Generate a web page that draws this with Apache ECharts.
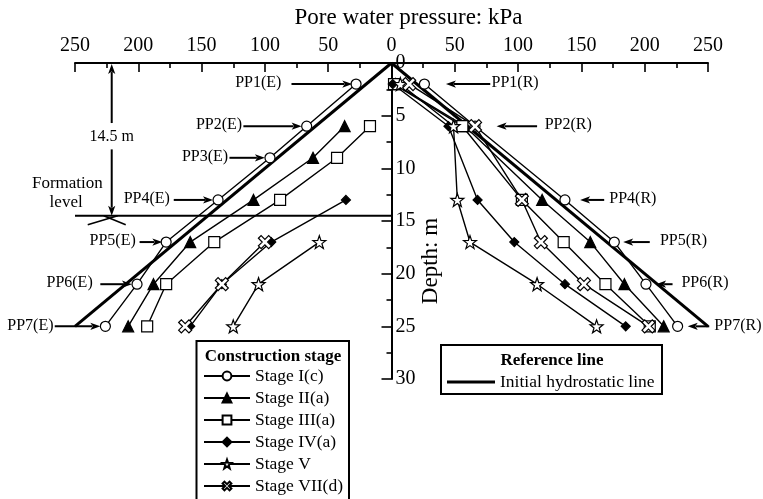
<!DOCTYPE html>
<html>
<head>
<meta charset="utf-8">
<script src="https://cdn.jsdelivr.net/npm/echarts@6/dist/echarts.min.js"></script>
<style>
html, body { margin: 0; padding: 0; background: #fff; }
#chart { width: 763px; height: 499px; }
</style>
</head>
<body>
<div id="chart"></div>
<script>
// Piezometer depths (m)
const depthsE = [2, 6, 9, 13, 17, 21, 25];   // PP1(E) ... PP7(E)
const depthsR = [2, 6, 13, 17, 21, 25];      // PP1(R), PP2(R), PP4(R) ... PP7(R)

const stageNames = ['Stage I(c)', 'Stage II(a)', 'Stage III(a)', 'Stage IV(a)', 'Stage V', 'Stage VII(d)'];

// Pore water pressure (kPa), excavation side (drawn to the left), null = not measured
const stage1E = [28, 67, 96, 137, 178, 201, 226];
const stage2E = [null, 37, 62, 109, 159, 188, 208];
const stage3E = [null, 17, 43, 88, 140, 178, 193];
const stage4E = [null, null, null, 36, 95, 134, 159];
const stage5E = [null, null, null, null, 57, 105, 125];
const stage7E = [null, null, null, null, 100, 134, 163];

// Pore water pressure (kPa), retained side (drawn to the right)
const stage1R = [26, 66, 137, 176, 201, 226];
const stage2R = [3, 58, 119, 157, 184, 215];
const stage3R = [2, 56, 103, 136, 169, 204];
const stage4R = [1, 45, 68, 97, 137, 185];
const stage5R = [7, 49, 52, 62, 115, 162];
const stage7R = [14, 66, 103, 118, 152, 203];

// Initial hydrostatic line
const hydroDepth = [0, 25];
const hydroPressure = [0, 250];

// Top axis tick labels (kPa), both sides
const xTickLabels = [250, 200, 150, 100, 50, 0, 50, 100, 150, 200, 250];

const FONT = '"Liberation Serif", "Times New Roman", serif';

const STAR = 'path://M10,0 L12.35,6.76 L19.51,6.91 L13.8,11.24 L15.88,18.09 L10,14 L4.12,18.09 L6.2,11.24 L0.49,6.91 L7.65,6.76 Z';
const CROSS = 'path://M0,2.5 L2.5,0 L6,3.5 L9.5,0 L12,2.5 L8.5,6 L12,9.5 L9.5,12 L6,8.5 L2.5,12 L0,9.5 L3.5,6 Z';

const markerStyle = {
  'Stage I(c)':   { symbol: 'circle',   size: 10, fill: '#fff' },
  'Stage II(a)':  { symbol: 'triangle', size: 11, fill: '#000' },
  'Stage III(a)': { symbol: 'rect',     size: 11, fill: '#fff' },
  'Stage IV(a)':  { symbol: 'diamond',  size: 9,  fill: '#000' },
  'Stage V':      { symbol: STAR,       size: 13, fill: '#fff' },
  'Stage VII(d)': { symbol: CROSS,      size: 13, fill: '#fff' }
};

const valuesE = [stage1E, stage2E, stage3E, stage4E, stage5E, stage7E];
const valuesR = [stage1R, stage2R, stage3R, stage4R, stage5R, stage7R];

function points(depths, values, sign) {
  const out = [];
  depths.forEach((d, i) => {
    if (values[i] !== null) out.push([sign * values[i], d]);
  });
  return out;
}

function stageSeries(name, data) {
  const m = markerStyle[name];
  return {
    type: 'line',
    name: name,
    data: data,
    symbol: m.symbol,
    symbolSize: m.size,
    showAllSymbol: true,
    silent: true,
    z: 4,
    lineStyle: { color: '#000', width: 1.4 },
    itemStyle: { color: m.fill, borderColor: '#000', borderWidth: 1.2 }
  };
}

const series = [];
const hydroName = 'Initial hydrostatic line';
[-1, 1].forEach(sign => {
  series.push({
    type: 'line',
    name: hydroName,
    data: hydroDepth.map((d, i) => [sign * hydroPressure[i], d]),
    symbol: 'none',
    silent: true,
    z: 3,
    lineStyle: { color: '#000', width: 3 },
    itemStyle: { color: '#000' }
  });
});
stageNames.forEach((name, k) => {
  series.push(stageSeries(name, points(depthsE, valuesE[k], -1)));
  series.push(stageSeries(name, points(depthsR, valuesR[k], 1)));
});

const GRID = { left: 75, right: 55, top: 63, bottom: 120 };
const chartW = 763;
// depth axis sits on the zero-pressure line, half way across the plot
const depthAxisOffset = -(chartW - GRID.left - GRID.right) / 2;

const chart = echarts.init(document.getElementById('chart'), null, { renderer: 'canvas' });

chart.setOption({
  animation: false,
  backgroundColor: '#fff',
  grid: Object.assign({ containLabel: false }, GRID),
  xAxis: {
    type: 'value',
    position: 'top',
    min: -250, max: 250, interval: 50,
    axisLine: { onZero: false, lineStyle: { color: '#000', width: 2 } },
    axisTick: { inside: true, length: 9, lineStyle: { color: '#000', width: 1.6 } },
    minorTick: { show: true, splitNumber: 2, length: 5, lineStyle: { color: '#000', width: 1.6 } },
    splitLine: { show: false },
    axisLabel: {
      margin: 7, color: '#000', fontFamily: FONT, fontSize: 20,
      formatter: v => String(xTickLabels[Math.round((v + 250) / 50)])
    }
  },
  yAxis: {
    type: 'value',
    inverse: true,
    position: 'right',
    offset: depthAxisOffset,
    min: 0, max: 30, interval: 5,
    axisLine: { onZero: false, lineStyle: { color: '#000', width: 2 } },
    axisTick: { inside: true, length: 10, lineStyle: { color: '#000', width: 1.6 } },
    minorTick: { show: true, splitNumber: 2, length: 5, lineStyle: { color: '#000', width: 1.6 } },
    splitLine: { show: false },
    axisLabel: { margin: 4, color: '#000', fontFamily: FONT, fontSize: 20 }
  },
  legend: [
    {
      data: stageNames,
      orient: 'vertical',
      left: 198, top: 360, height: 170,
      itemWidth: 46, itemHeight: 11, itemGap: 0,
      selectedMode: false,
      textStyle: { color: '#000', fontFamily: FONT, fontSize: 17.5, lineHeight: 22 }
    },
    {
      data: [{ name: hydroName, icon: 'rect' }],
      orient: 'vertical',
      left: 442, top: 366,
      itemWidth: 48, itemHeight: 3, itemGap: 0,
      selectedMode: false,
      textStyle: { color: '#000', fontFamily: FONT, fontSize: 17.5, lineHeight: 22 }
    }
  ],
  series: series
});

// ---- annotations ----
const px = (v, d) => chart.convertToPixel({ xAxisIndex: 0, yAxisIndex: 0 }, [v, d]);
const g = [];

function line(a, b, w) {
  g.push({ type: 'line', silent: true, z: 10,
    shape: { x1: a[0], y1: a[1], x2: b[0], y2: b[1] },
    style: { stroke: '#000', lineWidth: w || 2 } });
}
function arrow(tail, tip) {
  const dx = tip[0] - tail[0], dy = tip[1] - tail[1];
  const len = Math.sqrt(dx * dx + dy * dy);
  const ux = dx / len, uy = dy / len;
  const hl = 10, hw = 3.6;
  const base = [tip[0] - ux * hl, tip[1] - uy * hl];
  line(tail, [base[0] + ux * 2, base[1] + uy * 2], 2);
  g.push({ type: 'polygon', silent: true, z: 10,
    shape: { points: [tip, [base[0] - uy * hw, base[1] + ux * hw], [base[0] + ux * 2.5, base[1] + uy * 2.5], [base[0] + uy * hw, base[1] - ux * hw]] },
    style: { fill: '#000' } });
}
function text(str, p, align, size, weight) {
  g.push({ type: 'text', silent: true, z: 10, x: p[0], y: p[1],
    style: { text: str, fill: '#000', align: align || 'center', verticalAlign: 'middle',
      font: (weight || 'normal') + ' ' + (size || 16) + 'px ' + FONT } });
}

// Piezometer labels: [label, depth, text anchor, arrow tail, arrow tip] (kPa, signed)
const ppLabels = [
  ['PP1(E)', 2, -87, -79, -31],
  ['PP2(E)', 6, -118, -117, -71],
  ['PP3(E)', 9, -129, -128, -100],
  ['PP4(E)', 13, -175, -172, -141],
  ['PP5(E)', 17, -202, -199, -181],
  ['PP6(E)', 21, -236, -230, -205],
  ['PP7(E)', 25, -267, -266, -230],
  ['PP1(R)', 2, 79, 78, 43],
  ['PP2(R)', 6, 121, 115, 83],
  ['PP4(R)', 13, 172, 168, 149],
  ['PP5(R)', 17, 212, 204, 183],
  ['PP6(R)', 21, 229, 222, 209],
  ['PP7(R)', 25, 255, 251, 234]
];
ppLabels.forEach(([lab, d, t, tail, tip]) => {
  arrow(px(tail, d), px(tip, d));
  const p = px(t, d);
  text(lab, [p[0], p[1] - 1], t < 0 ? 'right' : 'left', 16);
});

// Formation level and its 14.5 m dimension
line(px(-250, 14.5), px(0, 14.5), 2);
const dimX = -221;
arrow(px(dimX, 5.7), px(dimX, 0.1));
arrow(px(dimX, 8.2), px(dimX, 14.5));
text('14.5 m', px(dimX, 7.0), 'center', 16);
const f = px(dimX, 14.5);
line([f[0] - 24, f[1] + 9], [f[0] + 6, f[1]], 1.6);
line([f[0] - 8, f[1]], [f[0] + 14, f[1] + 9], 1.6);
text('Formation', px(-256, 11.4), 'center', 17);
text('level', px(-257, 13.2), 'center', 17);

// Axis titles
const o = px(0, 0);
text('Pore water pressure: kPa', [o[0] + 17, o[1] - 45], 'center', 23);
const dp = px(0, 18.8);
g.push({ type: 'text', silent: true, z: 10, x: dp[0] + 39, y: dp[1], rotation: Math.PI / 2,
  style: { text: 'Depth: m', fill: '#000', align: 'center', verticalAlign: 'middle', font: '23px ' + FONT } });

// Legend frames and headings
g.push({ type: 'rect', silent: true, z: 1, shape: { x: 196.5, y: 341, width: 152.5, height: 175 },
  style: { fill: 'none', stroke: '#000', lineWidth: 2 } });
text('Construction stage', [273, 357], 'center', 17, 'bold');
g.push({ type: 'rect', silent: true, z: 1, shape: { x: 441, y: 345, width: 221, height: 49 },
  style: { fill: 'none', stroke: '#000', lineWidth: 2 } });
text('Reference line', [552, 361], 'center', 17, 'bold');

chart.setOption({ graphic: g });
</script>
</body>
</html>
